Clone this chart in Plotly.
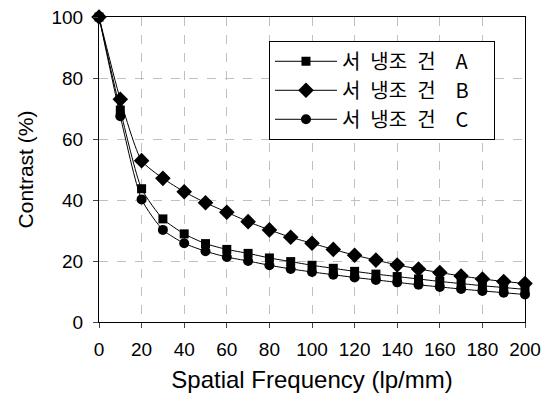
import plotly.graph_objects as go

freq = [0, 10, 20, 30, 40, 50, 60, 70, 80, 90, 100, 110, 120, 130, 140, 150, 160, 170, 180, 190, 200]
cond_a = [100, 69.5, 43.7, 33.8, 28.9, 25.7, 23.8, 22.5, 21.0, 19.8, 18.6, 17.6, 16.6, 15.7, 14.9, 14.1, 13.3, 12.6, 11.9, 11.3, 10.7]
cond_b = [100, 73.0, 52.9, 47.1, 42.7, 39.1, 36.0, 32.9, 30.2, 27.8, 25.8, 23.8, 21.9, 20.3, 18.7, 17.4, 16.2, 15.1, 14.1, 13.3, 12.6]
cond_c = [100, 67.5, 40.2, 30.2, 25.8, 23.2, 21.3, 20.0, 18.6, 17.4, 16.4, 15.5, 14.6, 13.8, 13.0, 12.2, 11.5, 10.8, 10.2, 9.6, 9.0]
names = ["서\u2002냉조\u2002건\u2003A\u2003", "서\u2002냉조\u2002건\u2003B\u2003", "서\u2002냉조\u2002건\u2003C\u2003"]
x_ticks = [0, 20, 40, 60, 80, 100, 120, 140, 160, 180, 200]
y_ticks = [0, 20, 40, 60, 80, 100]

FONT = "Liberation Sans, Arial, Noto Sans CJK KR, sans-serif"

fig = go.Figure()
for i, (name, vals, sym, sz) in enumerate([(names[0], cond_a, "square", 9),
                                           (names[1], cond_b, "diamond", 12),
                                           (names[2], cond_c, "circle", 10)]):
    fig.add_trace(go.Scatter(
        x=freq, y=vals, name=name, mode="lines+markers",
        legendgroup=f"g{i}",
        line=dict(color="black", width=1, shape="spline", smoothing=0.6),
        marker=dict(symbol=sym, size=sz, color="black"),
        cliponaxis=False,
    ))

fig.update_layout(
    width=546, height=394,
    margin=dict(l=91, r=29, t=9, b=80, autoexpand=False),
    paper_bgcolor="white", plot_bgcolor="white",
    font=dict(family=FONT, size=19, color="black"),
    showlegend=True,
    legend=dict(
        x=0.399, y=0.922, xanchor="left", yanchor="top",
        bordercolor="black", borderwidth=1, bgcolor="white",
        font=dict(family="Noto Sans CJK KR, Liberation Sans, sans-serif", size=20),
        itemwidth=62, traceorder="grouped", tracegroupgap=0,
    ),
)
fig.update_xaxes(
    range=[0, 200], tickvals=x_ticks, ticks="outside", ticklen=5,
    showline=True, linecolor="black", linewidth=1, mirror=True,
    showgrid=True, gridcolor="#c0c0c0", griddash="dash", gridwidth=1,
    zeroline=False, ticklabelstandoff=5, ticklabeloverflow="allow",
    automargin=False,
    title=dict(text="Spatial Frequency (lp/mm)", font=dict(size=24), standoff=12),
    tickfont=dict(size=19),
)
fig.update_yaxes(
    range=[0, 100], tickvals=y_ticks, ticks="outside", ticklen=5,
    showline=True, linecolor="black", linewidth=1, mirror=True,
    showgrid=True, gridcolor="#c0c0c0", griddash="dash", gridwidth=1,
    zeroline=False, ticklabelstandoff=6, ticklabeloverflow="allow",
    automargin=False,
    title=dict(text="Contrast (%)", font=dict(size=21), standoff=12),
    tickfont=dict(size=19),
)

fig.write_html("out.html")
